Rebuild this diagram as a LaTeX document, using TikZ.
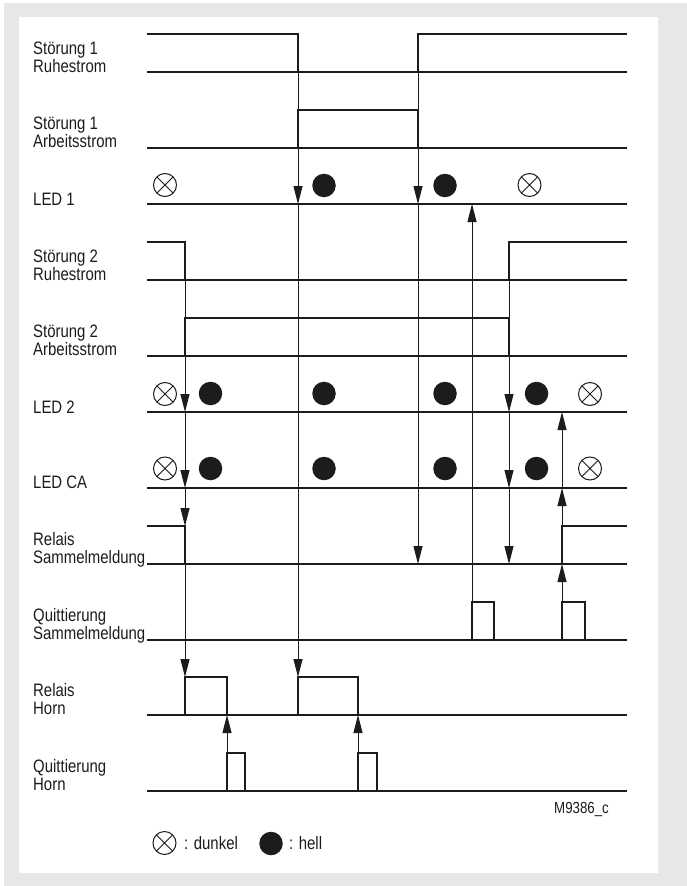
\documentclass[tikz,border=0pt]{standalone}
\usepackage{fontspec}
\setmainfont[FakeStretch=0.83]{Liberation Sans}
\usetikzlibrary{arrows.meta}
\definecolor{bggray}{RGB}{230,231,233}
\definecolor{ink}{RGB}{30,27,28}
\begin{document}
\begin{tikzpicture}[x=1pt,y=-1pt,
  sig/.style={line width=2.3pt, line join=miter, draw=ink},
  baseln/.style={line width=1.2pt, draw=ink},
  arr/.style={line width=1pt, draw=ink, -{Triangle[length=18pt,width=9pt]}},
  lbl/.style={anchor=south west, inner sep=0pt, text depth=0pt, align=left, text=ink, font=\fontsize{18}{18}\selectfont},
  dark/.style={circle, draw=ink, line width=1pt, minimum size=23pt, inner sep=0pt,
    path picture={\draw[line width=1pt, ink] (path picture bounding box.north west) -- (path picture bounding box.south east)
      (path picture bounding box.north east) -- (path picture bounding box.south west);}},
  bright/.style={circle, fill=ink, minimum size=23.5pt, inner sep=0pt}]
\useasboundingbox (0,0) rectangle (687,886);
\fill[bggray] (4,3) rectangle (687,886);
\fill[white] (19,17) rectangle (658,873);

% baselines
\foreach \yy in {72,148,204,280,356,412,488,564,640,715,791}
  \draw[baseln] (147,\yy) -- (627,\yy);

% signals
\draw[sig] (147,34) -- (298,34) -- (298,72) -- (418,72) -- (418,34) -- (627,34);
\draw[sig] (147,148) -- (298,148) -- (298,110) -- (418,110) -- (418,148) -- (627,148);
\draw[sig] (147,242) -- (185,242) -- (185,280) -- (509,280) -- (509,242) -- (627,242);
\draw[sig] (147,356) -- (185,356) -- (185,318) -- (509,318) -- (509,356) -- (627,356);
\draw[sig] (147,526) -- (185,526) -- (185,564) -- (562,564) -- (562,526) -- (627,526);
\draw[sig] (147,640) -- (472,640) -- (472,602) -- (494,602) -- (494,640) -- (562,640) -- (562,602) -- (585,602) -- (585,640) -- (627,640);
\draw[sig] (147,715) -- (185,715) -- (185,677) -- (227,677) -- (227,715) -- (298,715) -- (298,677) -- (358,677) -- (358,715) -- (627,715);
\draw[sig] (147,791) -- (227,791) -- (227,753) -- (245,753) -- (245,791) -- (358,791) -- (358,753) -- (377,753) -- (377,791) -- (627,791);

% labels
\node[lbl] (l1) at (33,72.5) {Störung 1\\Ruhestrom};
\node[lbl] (l2) at (33,148) {Störung 1\\Arbeitsstrom};
\node[lbl] (l3) at (33,205.5) {LED 1};
\node[lbl] (l4) at (33,280.5) {Störung 2\\Ruhestrom};
\node[lbl] (l5) at (33,356) {Störung 2\\Arbeitsstrom};
\node[lbl] (l6) at (33,413.5) {LED 2};
\node[lbl] (l7) at (33,489) {LED CA};
\node[lbl] (l8) at (33,564) {Relais\\Sammelmeldung};
\node[lbl] (l9) at (33,640) {Quittierung\\Sammelmeldung};
\node[lbl] (l10) at (33,715) {Relais\\Horn};
\node[lbl] (l11) at (33,791) {Quittierung\\Horn};

% LED states
\node[dark] (d11) at (165,185) {};
\node[bright] (b12) at (324,185.5) {};
\node[bright] (b13) at (445,185.5) {};
\node[dark] (d14) at (529.5,185) {};

\node[dark] (d21) at (165,394) {};
\node[bright] (b22) at (210.5,393.5) {};
\node[bright] (b23) at (324,393.5) {};
\node[bright] (b24) at (445,393.5) {};
\node[bright] (b25) at (536.5,393.5) {};
\node[dark] (d26) at (590,394) {};

\node[dark] (d31) at (165,468.5) {};
\node[bright] (b32) at (210.5,468.5) {};
\node[bright] (b33) at (324,468.5) {};
\node[bright] (b34) at (445,468.5) {};
\node[bright] (b35) at (536.5,468.5) {};
\node[dark] (d36) at (590,468.5) {};

% arrow coordinates
\coordinate (p185a) at (185,280);
\coordinate (p185b) at (185,412);
\coordinate (p185c) at (185,488);
\coordinate (p185d) at (185,526);
\coordinate (p185e) at (185,677);
\coordinate (p298a) at (298,72);
\coordinate (p298b) at (298,204);
\coordinate (p298c) at (298,677);
\coordinate (p418a) at (418,72);
\coordinate (p418b) at (418,204);
\coordinate (p418c) at (418,564);
\coordinate (p472a) at (472,602);
\coordinate (p472b) at (472,204);
\coordinate (p509a) at (509,280);
\coordinate (p509b) at (509,412);
\coordinate (p509c) at (509,488);
\coordinate (p509d) at (509,564);
\coordinate (p562a) at (562,602);
\coordinate (p562b) at (562,564);
\coordinate (p562c) at (562,526);
\coordinate (p562d) at (562,488);
\coordinate (p562e) at (562,412);
\coordinate (p227a) at (227,753);
\coordinate (p227b) at (227,715);
\coordinate (p358a) at (358,753);
\coordinate (p358b) at (358,715);

% arrows
\draw[arr] (p185a) -- (p185b);
\draw[arr] (p185b) -- (p185c);
\draw[arr] (p185c) -- (p185d);
\draw[arr] (p185d) -- (p185e);
\draw[arr] (p298a) -- (p298b);
\draw[arr] (p298b) -- (p298c);
\draw[arr] (p418a) -- (p418b);
\draw[arr] (p418b) -- (p418c);
\draw[arr] (p472a) -- (p472b);
\draw[arr] (p509a) -- (p509b);
\draw[arr] (p509b) -- (p509c);
\draw[arr] (p509c) -- (p509d);
\draw[arr] (p562a) -- (p562b);
\draw[arr] (p562c) -- (p562d);
\draw[arr] (p562d) -- (p562e);
\draw[arr] (p227a) -- (p227b);
\draw[arr] (p358a) -- (p358b);

% figure id
\node[anchor=base west, inner sep=0pt, text=ink, font=\fontsize{16}{17}\selectfont] (fid) at (554,813) {M9386\_c};

% legend
\node[dark] (ldark) at (164.5,843) {};
\node[anchor=base west, inner sep=0pt, text=ink, font=\fontsize{18}{18}\selectfont] (ltdark) at (184,849) {: dunkel};
\node[bright] (lbright) at (271,843.5) {};
\node[anchor=base west, inner sep=0pt, text=ink, font=\fontsize{18}{18}\selectfont] (ltbright) at (289,849) {: hell};
\end{tikzpicture}
\end{document}
